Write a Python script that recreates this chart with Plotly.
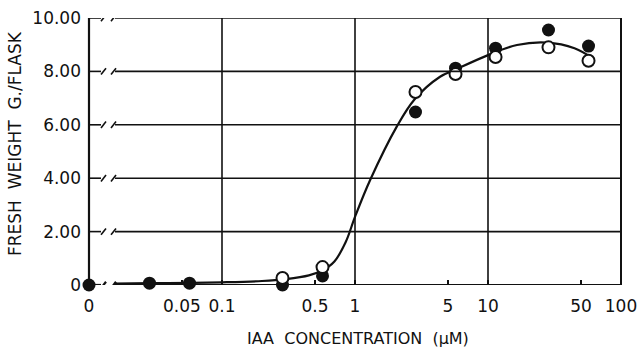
import math
import plotly.graph_objects as go

# ---- data (concentration in uM; 0 plotted at the 0.01 position of the broken log axis) ----
conc_filled = [0.01, 0.0285, 0.057, 0.285, 0.57, 2.85, 5.7, 11.4, 28.5, 57]
fw_filled = [0.0, 0.07, 0.07, 0.0, 0.34, 6.48, 8.12, 8.87, 9.55, 8.95]
conc_open = [0.285, 0.57, 2.85, 5.7, 11.4, 28.5, 57]
fw_open = [0.26, 0.67, 7.23, 7.9, 8.54, 8.9, 8.4]
curve_x = [0.0155, 0.03, 0.06, 0.1, 0.2, 0.3, 0.45, 0.57, 0.7, 0.85, 1.0, 1.3,
           2.06, 2.8, 4.36, 5.6, 10, 16.5, 27.7, 44.7, 63]
curve_y = [0.05, 0.07, 0.08, 0.10, 0.15, 0.22, 0.36, 0.55, 0.88, 1.6, 2.55, 3.93,
           5.93, 6.95, 7.8, 8.05, 8.61, 8.99, 9.08, 8.87, 8.46]
x_tickvals = [0.01, 0.05, 0.1, 0.5, 1, 5, 10, 50, 100]
x_ticktext = ["0", "0.05", "0.1", "0.5", "1", "5", "10", "50", "100"]
y_tickvals = [0, 2, 4, 6, 8, 10]
y_ticktext = ["0", "2.00", "4.00", "6.00", "8.00", "10.00"]
x_gridvals = [0.1, 1, 10, 100]

X_RANGE = [-2, 2]
Y_RANGE = [0, 10]
L, R, T, B = 89, 16, 18, 65
W, H = 637, 350
PW, PH = W - L - R, H - T - B

FONT = "DejaVu Sans"
INK = "#111111"


def xpaper(v):
    return (math.log10(v) - X_RANGE[0]) / (X_RANGE[1] - X_RANGE[0])


fig = go.Figure()
fig.add_trace(go.Scatter(x=curve_x, y=curve_y, mode="lines",
                         line=dict(color=INK, width=2.2, shape="spline", smoothing=1.0),
                         hoverinfo="skip", showlegend=False, cliponaxis=False))
fig.add_trace(go.Scatter(x=conc_filled, y=fw_filled, mode="markers",
                         marker=dict(size=13, color=INK, line=dict(width=0)),
                         showlegend=False, cliponaxis=False))
fig.add_trace(go.Scatter(x=conc_open, y=fw_open, mode="markers",
                         marker=dict(size=12, color="white", line=dict(width=2, color=INK)),
                         showlegend=False, cliponaxis=False))

shapes = []
px = lambda p: p / PW
dy = 3.2 * (Y_RANGE[1] - Y_RANGE[0]) / PH
for yv in y_tickvals:
    w = 2.2 if yv == 0 else 1.6
    st = dict(color=INK, width=w)
    shapes.append(dict(type="line", xref="paper", yref="y", x0=0, x1=px(12), y0=yv, y1=yv, line=st))
    shapes.append(dict(type="line", xref="paper", yref="y", x0=px(12), x1=px(17), y0=yv - dy, y1=yv + dy, line=st))
    shapes.append(dict(type="line", xref="paper", yref="y", x0=px(22), x1=px(27), y0=yv - dy, y1=yv + dy, line=st))
    shapes.append(dict(type="line", xref="paper", yref="y", x0=px(26), x1=1, y0=yv, y1=yv, line=st))
for gv in x_gridvals:
    shapes.append(dict(type="line", xref="paper", yref="paper", x0=xpaper(gv), x1=xpaper(gv),
                       y0=0, y1=1, line=dict(color=INK, width=2 if gv == 100 else 1.6)))
shapes.append(dict(type="line", xref="paper", yref="paper", x0=0, x1=0, y0=0, y1=1,
                   line=dict(color=INK, width=2.2)))

fig.update_layout(
    width=W, height=H,
    margin=dict(l=L, r=R, t=T, b=B, autoexpand=False),
    paper_bgcolor="white", plot_bgcolor="white",
    font=dict(family=FONT, color=INK, size=16),
    shapes=shapes,
    xaxis=dict(type="log", range=X_RANGE, tickvals=x_tickvals, ticktext=x_ticktext,
               showgrid=False, zeroline=False, showline=False, automargin=False,
               ticks="inside", ticklen=5, tickwidth=1.6, tickcolor=INK,
               ticklabelstandoff=9, ticklabeloverflow="allow", tickfont=dict(size=17)),
    yaxis=dict(range=Y_RANGE, tickvals=y_tickvals, ticktext=y_ticktext, automargin=False,
               showgrid=False, zeroline=False, showline=False, ticks="",
               ticklabelstandoff=7, ticklabeloverflow="allow", tickfont=dict(size=17)),
    annotations=[
        dict(text="IAA\u00a0\u00a0CONCENTRATION\u00a0\u00a0(\u00b5M)", xref="paper", yref="paper",
             x=(358 - L) / PW, y=(285 - 338) / PH, xanchor="center", yanchor="middle",
             showarrow=False, font=dict(size=16, family=FONT, color=INK)),
        dict(text="FRESH\u00a0\u00a0WEIGHT\u00a0\u00a0G./FLASK", xref="paper", yref="paper",
             x=(15 - L) / PW, y=(285 - 144) / PH, xanchor="center", yanchor="middle",
             textangle=-90, showarrow=False, font=dict(size=17, family=FONT, color=INK)),
    ],
)

fig.write_html("out.html", config={"displayModeBar": False},
               post_script="document.body.style.margin='0';document.body.style.overflow='hidden';")
